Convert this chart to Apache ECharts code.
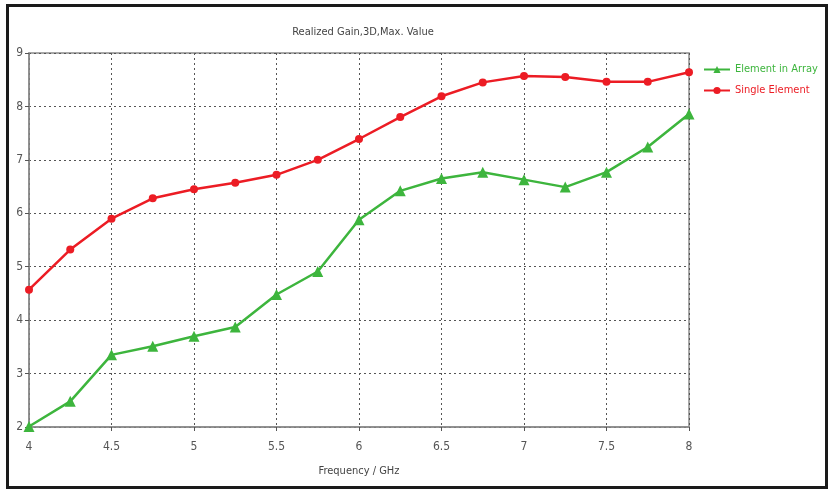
<!DOCTYPE html>
<html>
<head>
<meta charset="utf-8">
<script src="https://cdn.jsdelivr.net/npm/echarts@6/dist/echarts.min.js"></script>
<style>
  html, body { margin: 0; padding: 0; background: #fff; }
  #chart { width: 828px; height: 490px; }
</style>
</head>
<body>
<div id="chart"></div>
<script>
// Frequency sweep (GHz)
const frequency = [4, 4.25, 4.5, 4.75, 5, 5.25, 5.5, 5.75, 6, 6.25, 6.5, 6.75, 7, 7.25, 7.5, 7.75, 8];
// Realized gain (dBi) of one element embedded in the array
const elementInArray = [2.01, 2.48, 3.35, 3.51, 3.70, 3.87, 4.48, 4.91, 5.88, 6.42, 6.65, 6.77, 6.63, 6.49, 6.77, 7.24, 7.86];
// Realized gain (dBi) of the isolated single element
const singleElement = [4.57, 5.32, 5.90, 6.28, 6.45, 6.57, 6.72, 7.00, 7.39, 7.80, 8.19, 8.45, 8.57, 8.55, 8.46, 8.46, 8.64];

const GREEN = '#3db53d';
const RED = '#ec1c24';
const FONT = '"DejaVu Sans Condensed", "Liberation Sans Narrow", "DejaVu Sans", sans-serif';

function pairs(xs, ys) { return xs.map((x, i) => [x, ys[i]]); }

const chart = echarts.init(document.getElementById('chart'), null, { renderer: 'canvas' });
chart.setOption({
  animation: false,
  backgroundColor: '#fff',
  textStyle: { fontFamily: FONT },
  title: {
    text: 'Realized Gain,3D,Max. Value',
    left: 358, top: 22, textAlign: 'center',
    textStyle: { fontSize: 11, fontWeight: 'normal', color: '#444', fontFamily: FONT }
  },
  legend: {
    orient: 'vertical',
    left: 698, top: 59,
    itemWidth: 26, itemHeight: 9, itemGap: 10,
    textStyle: { fontSize: 11, fontFamily: FONT },
    data: [
      { name: 'Element in Array', textStyle: { color: GREEN } },
      { name: 'Single Element', textStyle: { color: RED } }
    ]
  },
  grid: {
    left: 29, top: 53, right: 139, bottom: 63,
    show: true, borderColor: '#8a8a8a', borderWidth: 1.5, backgroundColor: 'transparent'
  },
  xAxis: {
    type: 'value', min: 4, max: 8, interval: 0.5,
    name: 'Frequency / GHz', nameLocation: 'middle', nameGap: 39,
    nameTextStyle: { fontSize: 11, color: '#444', fontFamily: FONT },
    axisLine: { show: true, lineStyle: { color: '#8a8a8a', width: 1.5 } },
    axisTick: { show: true, length: 4, lineStyle: { color: '#555' } },
    axisLabel: { fontSize: 12, color: '#555', margin: 14, fontFamily: FONT },
    splitLine: { show: true, lineStyle: { color: '#555', type: [2, 3], width: 1 } }
  },
  yAxis: {
    type: 'value', min: 2, max: 9, interval: 1,
    axisLine: { show: true, lineStyle: { color: '#8a8a8a', width: 1.5 } },
    axisTick: { show: true, length: 4, lineStyle: { color: '#555' } },
    axisLabel: { fontSize: 12, color: '#555', margin: 6, fontFamily: FONT },
    splitLine: { show: true, lineStyle: { color: '#555', type: [2, 3], width: 1 } }
  },
  series: [
    {
      name: 'Element in Array', type: 'line',
      data: pairs(frequency, elementInArray),
      symbol: 'triangle', symbolSize: 11,
      lineStyle: { color: GREEN, width: 2.5 },
      itemStyle: { color: GREEN }
    },
    {
      name: 'Single Element', type: 'line',
      data: pairs(frequency, singleElement),
      symbol: 'circle', symbolSize: 8,
      lineStyle: { color: RED, width: 2.5 },
      itemStyle: { color: RED }
    }
  ],
  graphic: [
    {
      type: 'rect', silent: true, z: 100,
      shape: { x: 7.5, y: 5.5, width: 819, height: 482 },
      style: { fill: 'none', stroke: '#1a1a1a', lineWidth: 3 }
    }
  ]
});
</script>
</body>
</html>
